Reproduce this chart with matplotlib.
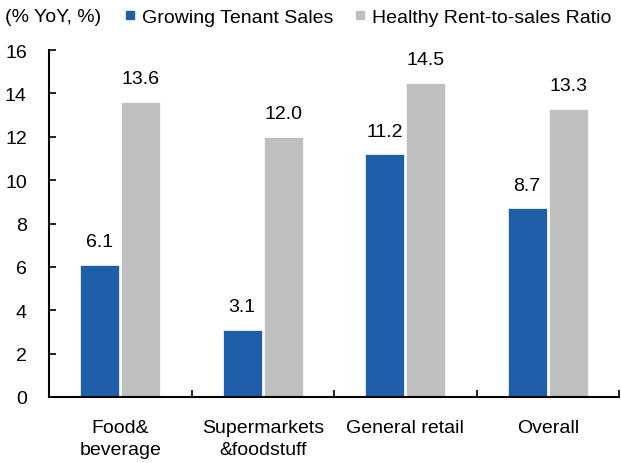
import numpy as np
import matplotlib.pyplot as plt
from matplotlib.lines import Line2D

categories = ["Food&\nbeverage", "Supermarkets\n&foodstuff", "General retail", "Overall"]
tenant_sales = [6.1, 3.1, 11.2, 8.7]
rent_ratio = [13.6, 12.0, 14.5, 13.3]
yticks = [0, 2, 4, 6, 8, 10, 12, 14, 16]

blue = "#1f5ea8"
grey = "#bfbfbf"
plt.rcParams['font.family'] = ['Liberation Sans', 'DejaVu Sans']
fs = 14

fig = plt.figure(figsize=(6.21, 4.64), dpi=100)
ax = fig.add_axes([49/621, 66/464, 570/621, 347/464])

x = np.arange(len(categories))
w = 0.275
b1 = ax.bar(x - w/2 - 0.007, tenant_sales, w, color=blue, edgecolor="white", linewidth=0.5)
b2 = ax.bar(x + w/2 + 0.007, rent_ratio, w, color=grey, edgecolor="white", linewidth=0.5)

for bars, vals in [(b1, tenant_sales), (b2, rent_ratio)]:
    for r, v in zip(bars, vals):
        ax.annotate(f"{v:.1f}", (r.get_x() + r.get_width()/2, v), xytext=(0, 10.5),
                    textcoords="offset points", ha="center", va="bottom", fontsize=fs)

ax.set_xlim(-0.5, len(categories) - 0.5)
ax.set_ylim(0, 16)
ax.set_yticks(yticks)
ax.set_xticks(np.arange(len(categories) + 1) - 0.5)
ax.set_xticklabels([])
ax.set_xticks(x, minor=True)
ax.set_xticklabels(categories, minor=True, fontsize=fs, linespacing=1.42)
ax.tick_params(axis="x", which="major", direction="in", length=5, width=1.2)
ax.tick_params(axis="x", which="minor", length=0, pad=15.5)
ax.tick_params(axis="y", direction="in", length=5, width=1.2, labelsize=fs, pad=16)
for s in ["top", "right"]:
    ax.spines[s].set_visible(False)
for s in ["left", "bottom"]:
    ax.spines[s].set_linewidth(1.5)

fig.text(5/621, 1 - 18/464, "(% YoY, %)", fontsize=fs, va="center")
handles = [Line2D([], [], marker="s", color=blue, linestyle="none", markersize=6),
           Line2D([], [], marker="s", color=grey, linestyle="none", markersize=6)]
fig.legend(handles, ["Growing Tenant Sales", "Healthy Rent-to-sales Ratio"], ncol=2,
           loc="center left", bbox_to_anchor=(124/621, 1 - 18/464), frameon=False,
           fontsize=fs, handlelength=0.6, handletextpad=0.3, columnspacing=1.1,
           borderaxespad=0, borderpad=0)

fig.savefig("out.png", dpi=100)
